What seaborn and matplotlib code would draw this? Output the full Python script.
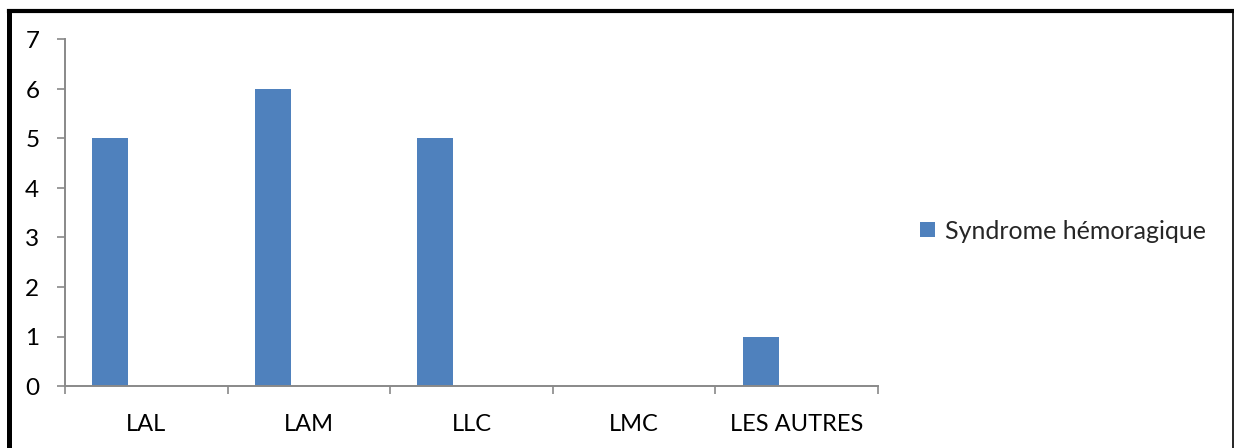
import matplotlib
matplotlib.use("Agg")
import matplotlib.pyplot as plt
import pandas as pd
import seaborn as sns
from matplotlib.lines import Line2D
from matplotlib.patches import Rectangle

# Data
categories = ["LAL", "LAM", "LLC", "LMC", "LES AUTRES"]
syndrome_hemoragique = [5, 6, 5, 0, 1]
series_name = "Syndrome hémoragique"
y_ticks = [0, 1, 2, 3, 4, 5, 6, 7]

# Each group keeps room for three series; only the first one has values
series_slots = [series_name, "Série 2", "Série 3"]
bar_color = "#4F81BD"
axis_grey = "#898989"

df = pd.DataFrame({
    "categorie": categories,
    "valeur": syndrome_hemoragique,
    "serie": [series_name] * len(categories),
})

sns.set_theme(style="white")
plt.rcParams["font.family"] = ["Lato", "DejaVu Sans"]
FS = 17

W, H = 1234, 448
fig = plt.figure(figsize=(W / 100, H / 100), dpi=100)
fig.patch.set_facecolor("white")

ax = fig.add_axes([65 / W, 1 - 386 / H, (878 - 65) / W, (386 - 39.5) / H])
sns.barplot(
    data=df, x="categorie", y="valeur", hue="serie", hue_order=series_slots,
    palette=[bar_color, "#C0504D", "#9BBB59"], width=0.665, dodge=True,
    saturation=1, errorbar=None, legend=False, linewidth=0, ax=ax,
)

ax.set_xlim(-0.5, len(categories) - 0.5)
ax.set_ylim(0, 7)
ax.set_yticks(y_ticks)
ax.set_yticklabels([str(t) for t in y_ticks], fontsize=17.5, color="black")
ax.set_xticks(range(len(categories)))
ax.set_xticklabels(categories, fontsize=FS, color="black")
ax.set_xticks([i - 0.5 for i in range(len(categories) + 1)], minor=True)
ax.set_xlabel("")
ax.set_ylabel("")

for side in ("top", "right"):
    ax.spines[side].set_visible(False)
for side in ("left", "bottom"):
    ax.spines[side].set_color(axis_grey)
    ax.spines[side].set_linewidth(1.4)

ax.tick_params(axis="y", which="major", direction="out", length=5.5, width=1.2,
               color=axis_grey, pad=13, left=True)
ax.tick_params(axis="x", which="major", length=0, pad=20)
ax.tick_params(axis="x", which="minor", direction="out", length=6, width=1.2,
               color=axis_grey, bottom=True)

# Legend
handle = Rectangle((0, 0), 1, 1, facecolor=bar_color, edgecolor="none")
fig.legend(
    handles=[handle], labels=[series_name], loc="center left",
    bbox_to_anchor=(920 / W, 1 - 231 / H), frameon=False, fontsize=18,
    handlelength=0.58, handleheight=0.58, handletextpad=0.42,
    borderpad=0, borderaxespad=0,
)

# Outer frame
def fig_line(x0, y0, x1, y1, lw):
    fig.add_artist(Line2D([x0 / W, x1 / W], [1 - y0 / H, 1 - y1 / H],
                          transform=fig.transFigure, color="black",
                          linewidth=lw, solid_capstyle="projecting"))

fig_line(8.5, 11, 1233, 11, 3.0)
fig_line(8.5, 11, 8.5, 460, 3.6)
fig_line(1233, 11, 1233, 460, 1.2)

fig.savefig("out.png", dpi=100, facecolor="white")
